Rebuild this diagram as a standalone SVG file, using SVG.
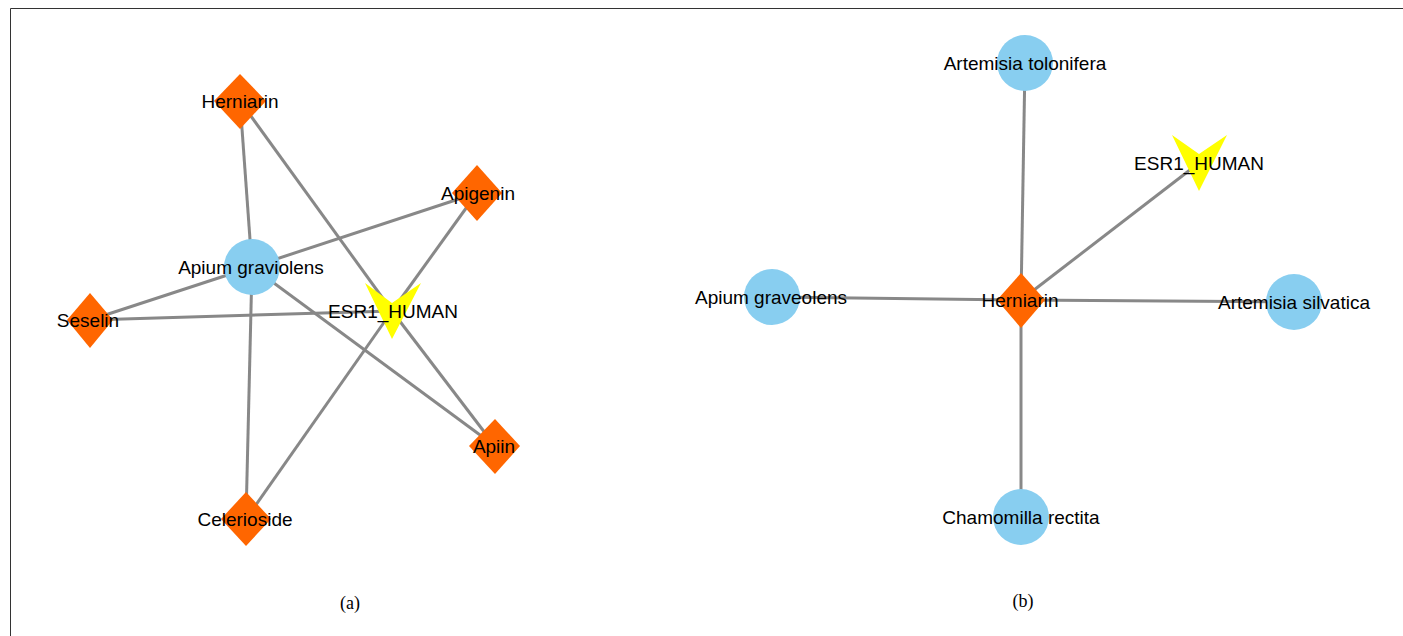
<svg xmlns="http://www.w3.org/2000/svg" width="1403" height="636" viewBox="0 0 1403 636">
<style>
.e{stroke:#888888;stroke-width:3;fill:none}
.d{fill:#FF6600}
.c{fill:#88CEF0}
.v{fill:#FFFF00}
.t{font-family:"Liberation Sans",Arial,sans-serif;font-size:19px;fill:#000;text-anchor:middle}
.cap{font-family:"Liberation Serif","Times New Roman",serif;font-size:18px;fill:#000;text-anchor:middle}
</style>
<rect width="1403" height="636" fill="#fff"/>
<path d="M10.5 636V8.5H1403" stroke="#333" stroke-width="1" fill="none"/>
<g id="connectors">
<line class="e" x1="252" y1="267" x2="240" y2="101"/>
<line class="e" x1="252" y1="267" x2="477" y2="193"/>
<line class="e" x1="252" y1="267" x2="90" y2="320"/>
<line class="e" x1="252" y1="267" x2="246" y2="519"/>
<line class="e" x1="252" y1="267" x2="495" y2="446"/>
<line class="e" x1="392" y1="311" x2="240" y2="101"/>
<line class="e" x1="392" y1="311" x2="477" y2="193"/>
<line class="e" x1="392" y1="311" x2="90" y2="320"/>
<line class="e" x1="392" y1="311" x2="246" y2="519"/>
<line class="e" x1="392" y1="311" x2="495" y2="446"/>
<line class="e" x1="1021" y1="300" x2="1025" y2="63"/>
<line class="e" x1="1021" y1="300" x2="1199" y2="163"/>
<line class="e" x1="1021" y1="300" x2="772" y2="297"/>
<line class="e" x1="1021" y1="300" x2="1294" y2="302"/>
<line class="e" x1="1021" y1="300" x2="1021" y2="517"/>
</g>
<g id="a_apium"><circle class="c" cx="252" cy="267" r="28"/><text class="t" x="251" y="274">Apium graviolens</text></g>
<g id="a_herniarin"><polygon class="d" points="240,74 266,101 240,129 214,101"/><text class="t" x="240" y="108">Herniarin</text></g>
<g id="a_apigenin"><polygon class="d" points="477,165 502,193 477,221 452,193"/><text class="t" x="478" y="200">Apigenin</text></g>
<g id="a_seselin"><polygon class="d" points="90,293 113,320 90,348 67,320"/><text class="t" x="88" y="327">Seselin</text></g>
<g id="a_apiin"><polygon class="d" points="495,419 520,446 495,474 469,446"/><text class="t" x="494" y="453">Apiin</text></g>
<g id="a_celerioside"><polygon class="d" points="246,492 271,519 246,546 221,519"/><text class="t" x="245" y="526">Celerioside</text></g>
<g id="a_esr1"><polygon class="v" points="365,283 392,303 421,283 392,339"/><text class="t" x="393" y="318">ESR1_HUMAN</text></g>
<g id="b_tolonifera"><circle class="c" cx="1025" cy="63" r="28"/><text class="t" x="1025" y="70">Artemisia tolonifera</text></g>
<g id="b_esr1"><polygon class="v" points="1172,135 1199,154 1227,135 1199,191"/><text class="t" x="1199" y="170">ESR1_HUMAN</text></g>
<g id="b_apium"><circle class="c" cx="772" cy="297" r="28"/><text class="t" x="771" y="304">Apium graveolens</text></g>
<g id="b_herniarin"><polygon class="d" points="1021,273 1045,300 1021,328 997,300"/><text class="t" x="1020" y="307">Herniarin</text></g>
<g id="b_silvatica"><circle class="c" cx="1294" cy="302" r="28"/><text class="t" x="1294" y="309">Artemisia silvatica</text></g>
<g id="b_chamomilla"><circle class="c" cx="1021" cy="517" r="28"/><text class="t" x="1021" y="524">Chamomilla rectita</text></g>
<text class="cap" x="350" y="609">(a)</text>
<text class="cap" x="1023" y="607">(b)</text>
</svg>
